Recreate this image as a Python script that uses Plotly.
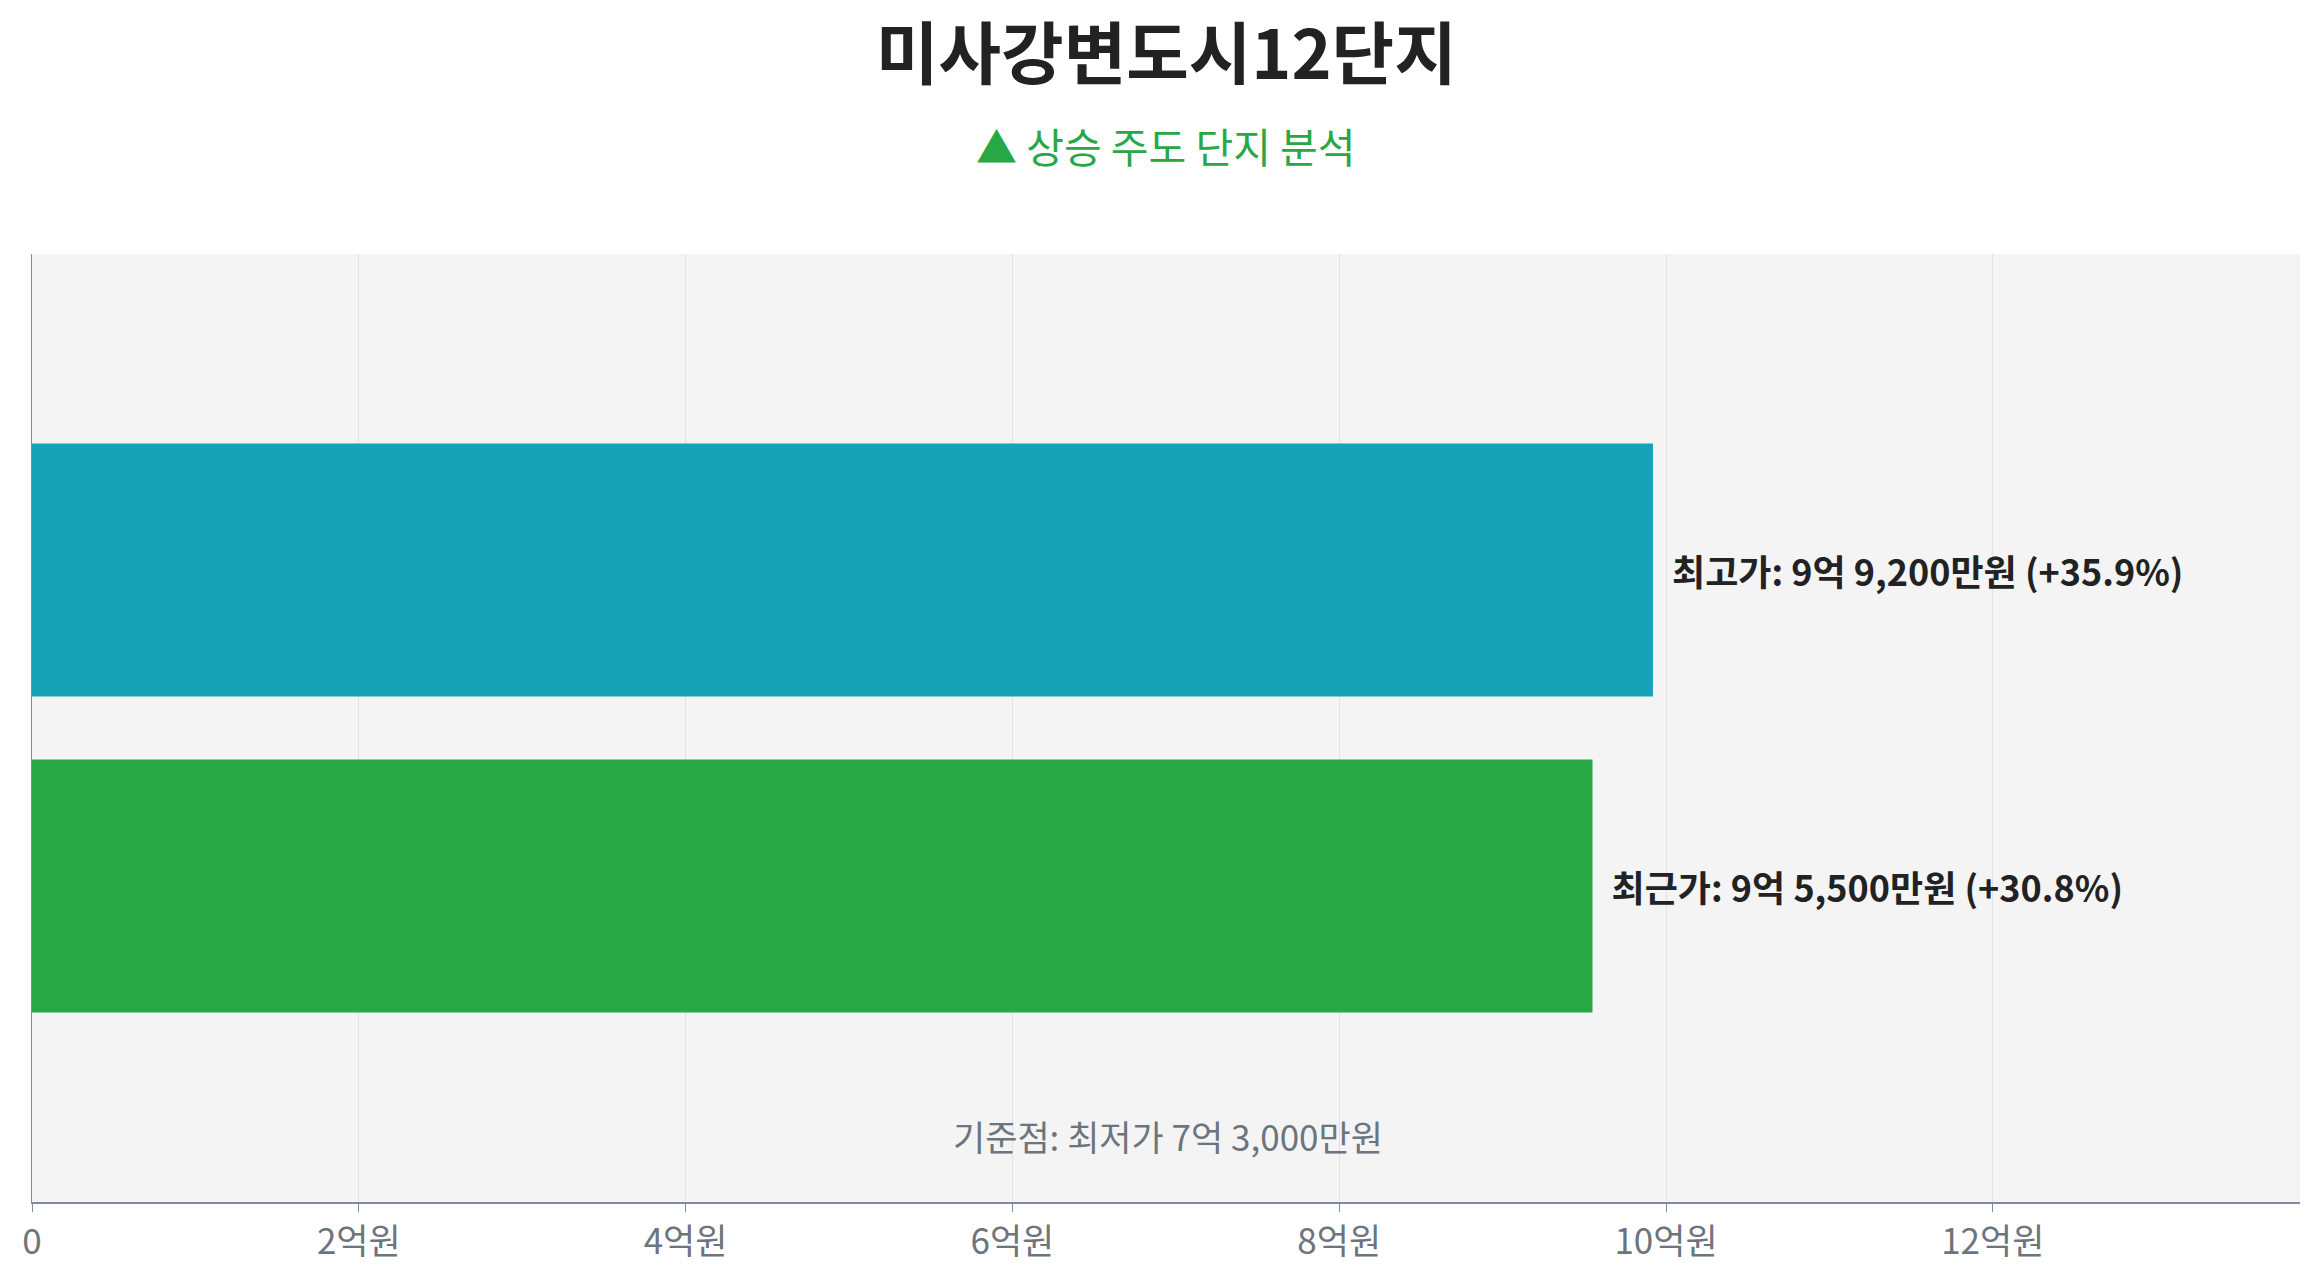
import plotly.graph_objects as go

# 가격 데이터 (원)
categories = ['최근가', '최고가']
prices = [955000000, 992000000]
labels = ['최근가: 9억 5,500만원 (+30.8%)', '최고가: 9억 9,200만원 (+35.9%)']
colors = ['#28a745', '#17a2b8']
base_price = 730000000
tick_vals = [0, 200000000, 400000000, 600000000, 800000000, 1000000000, 1200000000]
tick_text = ['0', '2억원', '4억원', '6억원', '8억원', '10억원', '12억원']

font = 'Noto Sans CJK KR'

fig = go.Figure()
fig.add_trace(go.Bar(
    x=prices, y=[0, 1], orientation='h', width=0.8,
    marker=dict(color=colors, line=dict(width=0)),
    text=['&nbsp;&nbsp;<b>' + t + '</b>' for t in labels], textposition='outside',
    textfont=dict(family=font, size=36, color='#222222'),
    cliponaxis=False, showlegend=False,
))

fig.add_annotation(x=695000000, y=-0.79, text='기준점: 최저가 7억 3,000만원',
                   showarrow=False, font=dict(family=font, size=35, color='#6c757d'))

fig.update_layout(
    width=2308, height=1268,
    paper_bgcolor='white', plot_bgcolor='#f4f4f5',
    margin=dict(l=24, r=16, t=246, b=64),
    font=dict(family=font),
    uniformtext=dict(mode=False),
)
fig.add_annotation(xref='paper', yref='paper', x=0.5, y=1.0, yshift=205, yanchor='middle',
                   text='<b>미사강변도시12단지</b>', showarrow=False,
                   font=dict(family=font, size=68, color='#222222'))
fig.add_annotation(xref='paper', yref='paper', x=0.5, y=1.0, yshift=109, yanchor='middle',
                   text='▲ 상승 주도 단지 분석', showarrow=False,
                   font=dict(family=font, size=41, color='#28a745'))

fig.update_xaxes(range=[0, 1388000000], tickvals=tick_vals, ticktext=tick_text,
                 showgrid=True, gridcolor='#e2e2e5', zeroline=False,
                 showline=True, linecolor='#7f8ba0', linewidth=2,
                 ticks='outside', ticklen=8, tickcolor='#7f8ba0',
                 tickfont=dict(family=font, size=35, color='#6c757d'))
fig.update_yaxes(range=[-1, 2], showticklabels=False, showgrid=False, zeroline=False,
                 showline=True, linecolor='#7f8ba0', linewidth=1)

fig.write_html('out.html')
